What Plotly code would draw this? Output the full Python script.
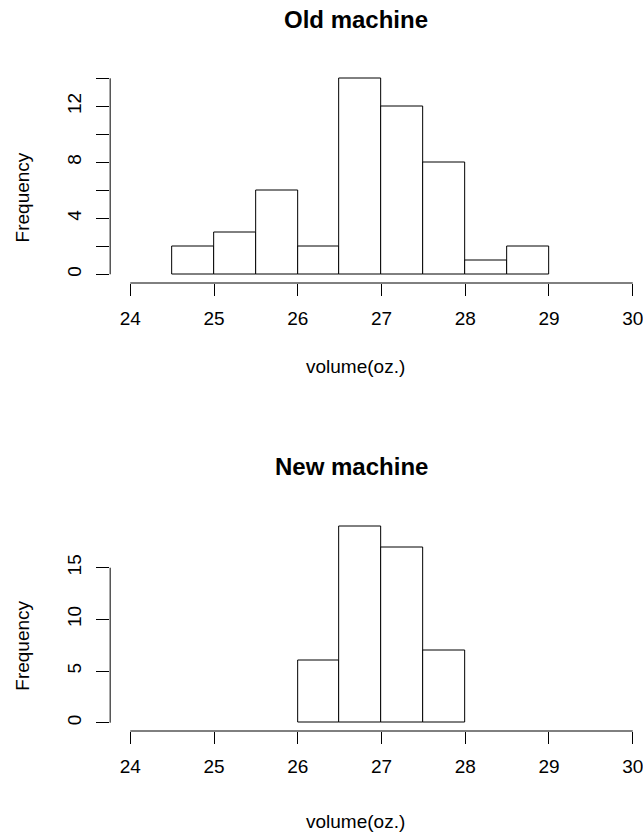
import plotly.graph_objects as go

# ---- data ----
bin_width = 0.5
old_left_edges = [24.5, 25.0, 25.5, 26.0, 26.5, 27.0, 27.5, 28.0, 28.5]
old_counts = [2, 3, 6, 2, 14, 12, 8, 1, 2]
new_left_edges = [26.0, 26.5, 27.0, 27.5]
new_counts = [6, 19, 17, 7]

x_ticks = [24, 25, 26, 27, 28, 29, 30]
old_y_ticks = [0, 2, 4, 6, 8, 10, 12, 14]
old_y_labels = ["0", "", "4", "", "8", "", "12", ""]
new_y_ticks = [0, 5, 10, 15]
new_y_labels = ["0", "5", "10", "15"]

titles = ["Old machine", "New machine"]
xlab = "volume(oz.)"
ylab = "Frequency"

# ---- layout helpers ----
W, H = 643, 832
def px(x):
    return x / W
def py(y):
    return 1 - y / H

FONT = "Liberation Sans, Arial, sans-serif"
AX_FONT = dict(family=FONT, size=19, color="black")

fig = go.Figure()

def centers(edges):
    return [e + bin_width / 2 for e in edges]

fig.add_trace(go.Bar(x=centers(old_left_edges), y=old_counts, width=bin_width,
                     marker=dict(color="white", line=dict(color="black", width=1)),
                     xaxis="x", yaxis="y", showlegend=False, hoverinfo="skip"))
fig.add_trace(go.Bar(x=centers(new_left_edges), y=new_counts, width=bin_width,
                     marker=dict(color="white", line=dict(color="black", width=1)),
                     xaxis="x2", yaxis="y2", showlegend=False, hoverinfo="skip"))

x_left_px = 110.5
x0_px = 130.7
x_scale = 84.0
x_range = [24 - (x0_px - x_left_px) / x_scale, 24 + (W - x0_px) / x_scale]

def xaxis_cfg(anchor):
    return dict(domain=[px(x_left_px), 1], range=x_range, anchor=anchor,
                showgrid=False, zeroline=False, showline=False,
                tickvals=x_ticks, ticktext=[str(t) for t in x_ticks],
                ticks="outside", ticklen=12, tickwidth=1, tickcolor="black",
                ticklabelstandoff=6, ticklabeloverflow="allow", tickfont=AX_FONT)

def yaxis_cfg(anchor, dom, rng, vals, labels):
    return dict(domain=dom, range=rng, anchor=anchor,
                showgrid=False, zeroline=False, showline=False,
                tickvals=vals, ticktext=labels, tickangle=-90,
                ticks="outside", ticklen=13, tickwidth=1, tickcolor="black",
                ticklabelstandoff=8, tickfont=AX_FONT)

# top panel: y=0 at 274.3 px, 14 px/unit; plot box 70.5..283
top_bot, top_top = 283.0, 70.5
top_zero, top_scale = 274.3, 14.0
top_range = [-(top_bot - top_zero) / top_scale, (top_zero - top_top) / top_scale]
# bottom panel: y=0 at 722.7 px, 10.333 px/unit; plot box 518.5..731
bot_bot, bot_top = 731.0, 518.5
bot_zero, bot_scale = 722.7, 10.333
bot_range = [-(bot_bot - bot_zero) / bot_scale, (bot_zero - bot_top) / bot_scale]

fig.update_layout(
    width=W, height=H, margin=dict(l=0, r=0, t=0, b=0),
    paper_bgcolor="white", plot_bgcolor="white", bargap=0,
    xaxis=xaxis_cfg("y"),
    yaxis=yaxis_cfg("x", [py(top_bot), py(top_top)], top_range, old_y_ticks, old_y_labels),
    xaxis2=xaxis_cfg("y2"),
    yaxis2=yaxis_cfg("x2", [py(bot_bot), py(bot_top)], bot_range, new_y_ticks, new_y_labels),
)

# R-style axis lines spanning only first..last tick
shapes = []
for xa, ya, yt in [("x", "y", old_y_ticks), ("x2", "y2", new_y_ticks)]:
    shapes.append(dict(type="line", xref=xa, yref=ya + " domain",
                       x0=x_ticks[0], x1=x_ticks[-1], y0=0, y1=0,
                       line=dict(color="black", width=1)))
    shapes.append(dict(type="line", xref=xa + " domain", yref=ya,
                       x0=0, x1=0, y0=yt[0], y1=yt[-1],
                       line=dict(color="black", width=1)))
fig.update_layout(shapes=shapes)

ann = []
# titles
for t, (cx, cy) in zip(titles, [(356.7, 19.5), (353.0, 466.0)]):
    ann.append(dict(text="<b>%s</b>" % t, x=px(cx), y=py(cy), xref="paper", yref="paper",
                    showarrow=False, xanchor="center", yanchor="middle",
                    font=dict(family=FONT, size=24, color="black")))
# x labels
for cy in [367.0, 821.0]:
    ann.append(dict(text=xlab, x=px(357.0), y=py(cy), xref="paper", yref="paper",
                    showarrow=False, xanchor="center", yanchor="middle", font=AX_FONT))
# y labels
for cy in [197.5, 645.8]:
    ann.append(dict(text=ylab, x=px(23.0), y=py(cy), xref="paper", yref="paper",
                    showarrow=False, xanchor="center", yanchor="middle", textangle=-90,
                    font=AX_FONT))
fig.update_layout(annotations=ann)

fig.write_html("out.html")
